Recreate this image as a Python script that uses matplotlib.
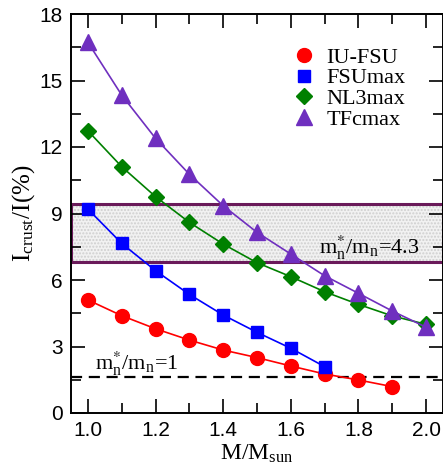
import matplotlib
matplotlib.use("Agg")
import matplotlib.pyplot as plt
from matplotlib.patches import Rectangle
from matplotlib.ticker import MultipleLocator, FormatStrFormatter

plt.rcParams['mathtext.fontset'] = 'stix'
plt.rcParams['font.family'] = ['Liberation Sans', 'DejaVu Sans']

mass_iu = [1.0, 1.1, 1.2, 1.3, 1.4, 1.5, 1.6, 1.7, 1.8, 1.9]
iu_fsu = [5.10, 4.39, 3.80, 3.29, 2.84, 2.50, 2.12, 1.76, 1.49, 1.19]

mass_fsu = [1.0, 1.1, 1.2, 1.3, 1.4, 1.5, 1.6, 1.7]
fsumax = [9.20, 7.65, 6.42, 5.35, 4.42, 3.64, 2.92, 2.09]

mass_nl3 = [1.0, 1.1, 1.2, 1.3, 1.4, 1.5, 1.6, 1.7, 1.8, 1.9, 2.0]
nl3max = [12.73, 11.11, 9.76, 8.60, 7.62, 6.78, 6.15, 5.47, 4.90, 4.38, 4.00]

mass_tfc = [1.0, 1.1, 1.2, 1.3, 1.4, 1.5, 1.6, 1.7, 1.8, 1.9, 2.0]
tfcmax = [16.72, 14.34, 12.39, 10.77, 9.35, 8.15, 7.17, 6.19, 5.40, 4.60, 3.87]

band_low, band_high = 6.8, 9.45
dash_level = 1.62

fig = plt.figure(figsize=(4.43, 4.72), dpi=100)
ax = fig.add_axes([71/443, 1 - 413/472, 372/443, 399/472])

fill = Rectangle((0.95, band_low), 1.1, band_high - band_low, facecolor='#f2f2f2',
                 edgecolor='#cfcfcf', linewidth=0, hatch='.....', zorder=1)
ax.add_patch(fill)
frame = Rectangle((0.95, band_low), 1.1, band_high - band_low, facecolor='none',
                  edgecolor='#6a1a5a', linewidth=2.2, zorder=1.5)
ax.add_patch(frame)

ax.axhline(dash_level, color='black', lw=1.6, ls=(0, (5, 3)), zorder=2)

ax.plot(mass_iu, iu_fsu, color='#ff0000', marker='o', ms=10, lw=1.2, label='IU-FSU', zorder=3)
ax.plot(mass_fsu, fsumax, color='#0000ff', marker='s', ms=8.5, lw=1.2, label='FSUmax', zorder=3)
ax.plot(mass_nl3, nl3max, color='#008000', marker='D', ms=8, lw=1.2, label='NL3max', zorder=3)
ax.plot(mass_tfc, tfcmax, color='#6f2fbf', marker='^', ms=11, lw=1.2, label='TFcmax', zorder=3)

ax.set_xlim(0.95, 2.05)
ax.set_ylim(0, 18)
ax.xaxis.set_major_locator(MultipleLocator(0.2))
ax.xaxis.set_minor_locator(MultipleLocator(0.1))
ax.yaxis.set_major_locator(MultipleLocator(3))
ax.yaxis.set_minor_locator(MultipleLocator(1.5))
ax.xaxis.set_major_formatter(FormatStrFormatter('%.1f'))
ax.tick_params(which='both', direction='in', top=True, right=True, width=1.2)
ax.tick_params(which='major', length=10, labelsize=15, pad=6)
ax.tick_params(which='minor', length=7)
for s in ax.spines.values():
    s.set_linewidth(1.4)

ax.set_xlabel(r'M/M$_{\mathregular{sun}}$', fontsize=17, family='Liberation Serif', labelpad=2)
ax.set_ylabel(r'I$_{\mathregular{crust}}$/I(%)', fontsize=18, family='Liberation Serif', labelpad=2)

ax.text(1.98, 7.45, r'm$_{\mathregular{n}}^{*}$/m$_{\mathregular{n}}$=4.3', fontsize=16,
        family='Liberation Serif', ha='right', va='center')
ax.text(1.02, 2.2, r'm$_{\mathregular{n}}^{*}$/m$_{\mathregular{n}}$=1', fontsize=16,
        family='Liberation Serif', ha='left', va='center')

leg = ax.legend(loc='upper right', bbox_to_anchor=(0.935, 0.95), frameon=False,
                prop={'family': 'Liberation Serif', 'size': 16}, handlelength=1.0,
                handletextpad=0.5, labelspacing=0.0, borderaxespad=0.2)
for h in leg.legend_handles:
    h.set_linestyle('none')

fig.savefig('out.png', dpi=100)
